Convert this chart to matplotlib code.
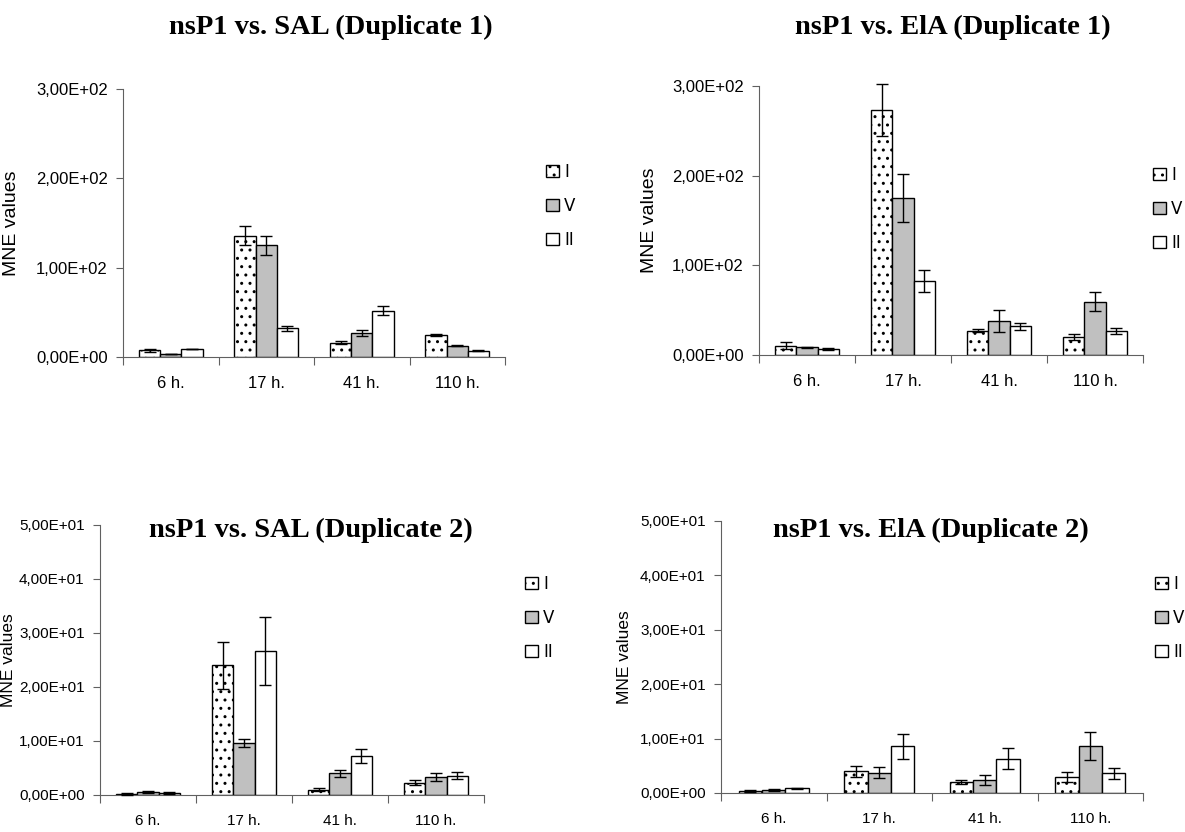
import numpy as np
import matplotlib
matplotlib.use("Agg")
import matplotlib.pyplot as plt
from matplotlib import font_manager
from matplotlib.ticker import FuncFormatter, FixedLocator, FixedFormatter

# Data
categories = ["6 h.", "17 h.", "41 h.", "110 h."]
series = ["I", "V", "II"]

sal1_I = [7.5, 136, 16, 25]
sal1_V = [3.4, 125, 27, 12.7]
sal1_II = [9, 32, 52, 7.1]
sal1_I_err = [2, 11, 1.5, 1.2]
sal1_V_err = [0.5, 11, 3, 0.5]
sal1_II_err = [0.5, 3, 5.5, 0.5]

ela1_I = [10.5, 273, 27, 20]
ela1_V = [8.5, 175, 38, 59.5]
ela1_II = [7, 82.5, 32, 27]
ela1_I_err = [3.7, 29, 1.5, 3.7]
ela1_V_err = [0.7, 26.5, 12.4, 10.5]
ela1_II_err = [1, 12.3, 3.8, 3.4]

sal2_I = [0.2, 24.0, 1.0, 2.3]
sal2_V = [0.5, 9.65, 4.0, 3.3]
sal2_II = [0.3, 26.7, 7.3, 3.6]
sal2_I_err = [0.15, 4.3, 0.3, 0.4]
sal2_V_err = [0.2, 0.8, 0.6, 0.7]
sal2_II_err = [0.2, 6.3, 1.3, 0.7]

ela2_I = [0.3, 4.0, 2.0, 3.0]
ela2_V = [0.6, 3.7, 2.4, 8.6]
ela2_II = [0.9, 8.6, 6.3, 3.6]
ela2_I_err = [0.2, 1.0, 0.3, 0.9]
ela2_V_err = [0.2, 1.0, 0.9, 2.6]
ela2_II_err = [0.1, 2.3, 1.9, 1.0]

W, H = 1185, 832
fig = plt.figure(figsize=(W / 100, H / 100), dpi=100)
plt.rcParams["hatch.linewidth"] = 1.0

installed = {f.name for f in font_manager.fontManager.ttflist}
narrow = "Liberation Sans Narrow" if "Liberation Sans Narrow" in installed else None


def sci_comma(v, pos):
    return f"{v:.2E}".replace(".", ",")


def panel(px, title, title_xy, vals, errs, ymax, leg_xy, ylabel_x, small):
    x0, y0, x1, y1 = px
    ax = fig.add_axes([x0 / W, 1 - y1 / H, (x1 - x0) / W, (y1 - y0) / H])
    x = np.arange(len(categories))
    w = 0.222
    fills = ["white", "#c0c0c0", "white"]
    hatches = ["..", None, None]
    for i, (v, e) in enumerate(zip(vals, errs)):
        ax.bar(x + (i - 1) * w, v, w, color=fills[i], edgecolor="black",
               linewidth=1.0, hatch=hatches[i], label=series[i], zorder=2)
        eb = ax.errorbar(x + (i - 1) * w, v, yerr=e, fmt="none", ecolor="black",
                         elinewidth=1.0, capsize=4, capthick=1.0, zorder=3)
        for art in eb.lines[1] + eb.lines[2]:
            art.set_clip_on(False)
    ax.set_xlim(-0.5, len(categories) - 0.5)
    ax.set_ylim(0, ymax)
    ax.set_yticks(np.linspace(0, ymax, 4 if ymax == 300 else 6))
    ax.yaxis.set_major_formatter(FuncFormatter(sci_comma))

    if small:
        fam = narrow or "Liberation Sans"
        fs = 12 if narrow else 11
        xpad = 14
    else:
        fam = "Liberation Sans"
        fs = 12
        xpad = 14
    ax.xaxis.set_major_locator(FixedLocator(np.arange(len(categories) + 1) - 0.5))
    ax.xaxis.set_major_formatter(FixedFormatter([""] * (len(categories) + 1)))
    ax.xaxis.set_minor_locator(FixedLocator(x))
    ax.xaxis.set_minor_formatter(FixedFormatter(categories))
    ax.tick_params(axis="x", which="major", length=6, color="#606060", direction="out")
    ax.tick_params(axis="x", which="minor", length=0, pad=xpad, labelsize=fs,
                   labelfontfamily=fam)
    ax.tick_params(axis="y", length=5, color="#606060", pad=6, labelsize=fs,
                   labelfontfamily=fam)

    for s in ["top", "right"]:
        ax.spines[s].set_visible(False)
    ax.spines["left"].set_color("#606060")
    ax.spines["bottom"].set_color("#606060")

    ax.set_ylabel("MNE values", fontsize=12.5 if small else 14, family=fam)
    ax.yaxis.set_label_coords((ylabel_x - x0) / (x1 - x0), 0.5)

    fig.text(title_xy[0] / W, 1 - title_xy[1] / H, title, ha="center", va="center",
             fontsize=20.5, fontweight="bold", family="Liberation Serif")

    ax.legend(loc="center left", bbox_to_anchor=(leg_xy[0] / W, 1 - leg_xy[1] / H),
              bbox_transform=fig.transFigure, frameon=False, fontsize=12,
              handlelength=0.75, handleheight=0.75, handletextpad=0.35,
              labelspacing=0.95, borderpad=0, borderaxespad=0)
    return ax


panel((123, 89, 505, 357), "nsP1 vs. SAL (Duplicate 1)", (331, 27),
      [sal1_I, sal1_V, sal1_II], [sal1_I_err, sal1_V_err, sal1_II_err],
      300, (546, 206), 20, False)
panel((759, 86, 1143, 355), "nsP1 vs. ElA (Duplicate 1)", (953, 27),
      [ela1_I, ela1_V, ela1_II], [ela1_I_err, ela1_V_err, ela1_II_err],
      300, (1153, 209), 658, False)
panel((100, 525, 484, 795), "nsP1 vs. SAL (Duplicate 2)", (311, 530),
      [sal2_I, sal2_V, sal2_II], [sal2_I_err, sal2_V_err, sal2_II_err],
      50, (525, 618), 16, True)
panel((721, 521, 1143, 793), "nsP1 vs. ElA (Duplicate 2)", (931, 530),
      [ela2_I, ela2_V, ela2_II], [ela2_I_err, ela2_V_err, ela2_II_err],
      50, (1155, 618), 632, True)

fig.savefig("out.png", dpi=100, facecolor="white")
